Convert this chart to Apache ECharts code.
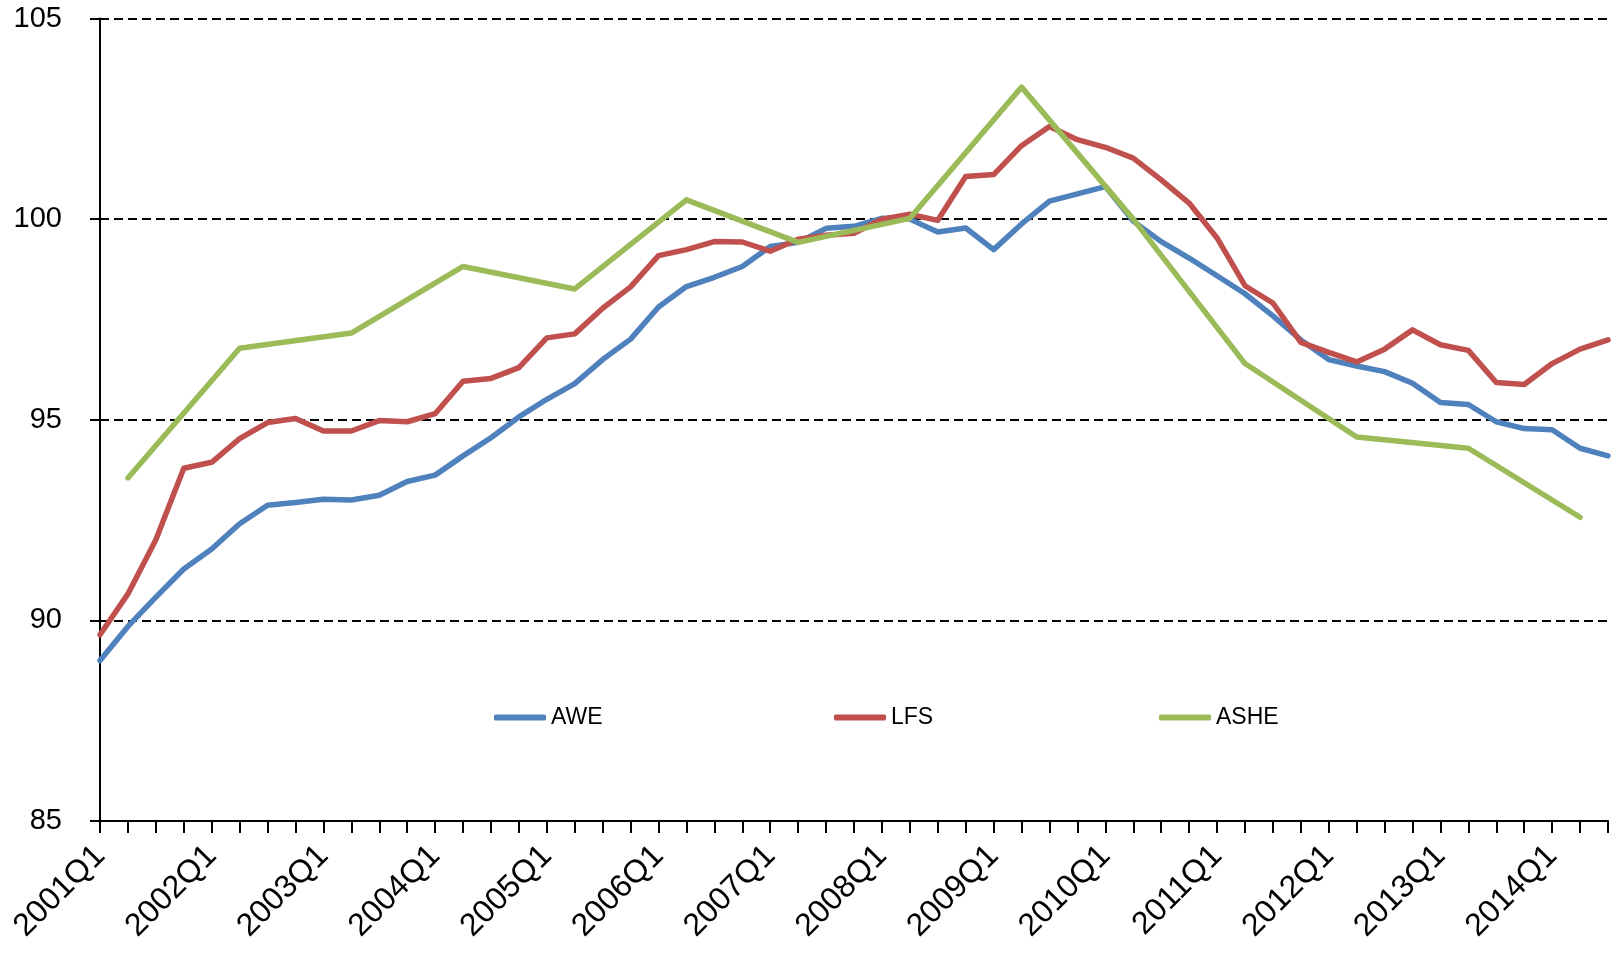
<!DOCTYPE html>
<html>
<head>
<meta charset="utf-8">
<script src="https://cdn.jsdelivr.net/npm/echarts@6/dist/echarts.min.js"></script>
<style>
  html, body { margin: 0; padding: 0; background: #fff; }
  #chart-box { width: 1613px; height: 957px; }
</style>
</head>
<body>
<div id="chart-box"></div>
<script>
// quarters 2001Q1 .. 2014Q3
const quarters = [];
for (let y = 2001; y <= 2014; y++) {
  for (let q = 1; q <= 4; q++) quarters.push(y + 'Q' + q);
}
quarters.length = 55;

const awe = [
  89.0, 89.85, 90.58, 91.28, 91.78, 92.41, 92.87, 92.94, 93.02, 93.0,
  93.12, 93.46, 93.62, 94.1, 94.55, 95.07, 95.51, 95.9, 96.5, 97.01,
  97.81, 98.32, 98.55, 98.82, 99.32, 99.42, 99.77, 99.82, 100.02, 100.0,
  99.68, 99.78, 99.24, 99.88, 100.45, 100.63, 100.81, 99.95, 99.44, 99.03,
  98.59, 98.14, 97.59, 96.99, 96.5, 96.34, 96.2, 95.91, 95.43, 95.38,
  94.95, 94.78, 94.75, 94.29, 94.1
];

const lfs = [
  89.64, 90.66, 92.01, 93.79, 93.94, 94.53, 94.93, 95.03, 94.72, 94.72,
  94.98, 94.95, 95.15, 95.96, 96.03, 96.3, 97.04, 97.14, 97.78, 98.31,
  99.09, 99.24, 99.44, 99.43, 99.2, 99.5, 99.6, 99.65, 100.0, 100.12,
  99.97, 101.06, 101.11, 101.83, 102.31, 101.98, 101.79, 101.52, 100.98, 100.4,
  99.53, 98.34, 97.91, 96.93, 96.68, 96.44, 96.76, 97.24, 96.87, 96.73,
  95.93, 95.88, 96.4, 96.76, 96.99
];

// ASHE is annual (Q2 of each year), gaps joined with connectNulls
const ashe = [
  null, 93.55, null, null,
  null, 96.78, null, null,
  null, 97.16, null, null,
  null, 98.82, null, null,
  null, 98.26, null, null,
  null, 100.48, null, null,
  null, 99.42, null, null,
  null, 100.02, null, null,
  null, 103.29, null, null,
  null, 100.0, null, null,
  null, 96.4, null, null,
  null, 94.57, null, null,
  null, 94.29, null, null,
  null, 92.57, null
];

const yTicks = { min: 85, max: 105, step: 5 };

const fontFamily = 'Liberation Sans';
const black = '#000';

const myChart = echarts.init(document.getElementById('chart-box'), null, { renderer: 'canvas' });

const legendBase = {
  top: 701,
  icon: 'roundRect',
  itemWidth: 52,
  itemHeight: 6,
  itemGap: 5,
  textStyle: { color: black, fontSize: 23, fontFamily: fontFamily }
};

const option = {
  animation: false,
  backgroundColor: '#fff',
  color: ['#4F81BD', '#C0504D', '#9BBB59'],
  grid: { left: 100, right: 5, top: 18.5, bottom: 136 },
  legend: [
    Object.assign({ data: ['AWE'], left: 489 }, legendBase),
    Object.assign({ data: ['LFS'], left: 829 }, legendBase),
    Object.assign({ data: ['ASHE'], left: 1154 }, legendBase)
  ],
  xAxis: {
    type: 'category',
    data: quarters,
    boundaryGap: false,
    axisLine: { lineStyle: { color: black, width: 2 } },
    axisTick: { show: true, interval: 0, length: 12, lineStyle: { color: black, width: 2 } },
    axisLabel: {
      interval: 3,
      rotate: 45,
      margin: 30,
      color: black,
      fontSize: 32,
      fontFamily: fontFamily
    },
    splitLine: { show: false }
  },
  yAxis: {
    type: 'value',
    min: yTicks.min,
    max: yTicks.max,
    interval: yTicks.step,
    axisLine: { show: true, lineStyle: { color: black, width: 2 } },
    axisTick: { show: true, length: 10, lineStyle: { color: black, width: 2 } },
    axisLabel: { margin: 38, color: black, fontSize: 29, fontFamily: fontFamily },
    splitLine: { show: true, lineStyle: { color: black, width: 2, type: [9, 5] } }
  },
  series: [
    {
      name: 'AWE', type: 'line', data: awe, symbol: 'none', smooth: false,
      lineStyle: { width: 5.5, cap: 'round', join: 'round' }
    },
    {
      name: 'LFS', type: 'line', data: lfs, symbol: 'none', smooth: false,
      lineStyle: { width: 5.5, cap: 'round', join: 'round' }
    },
    {
      name: 'ASHE', type: 'line', data: ashe, symbol: 'none', smooth: false, connectNulls: true,
      lineStyle: { width: 5.5, cap: 'round', join: 'round' }
    }
  ]
};

myChart.setOption(option);
</script>
</body>
</html>
